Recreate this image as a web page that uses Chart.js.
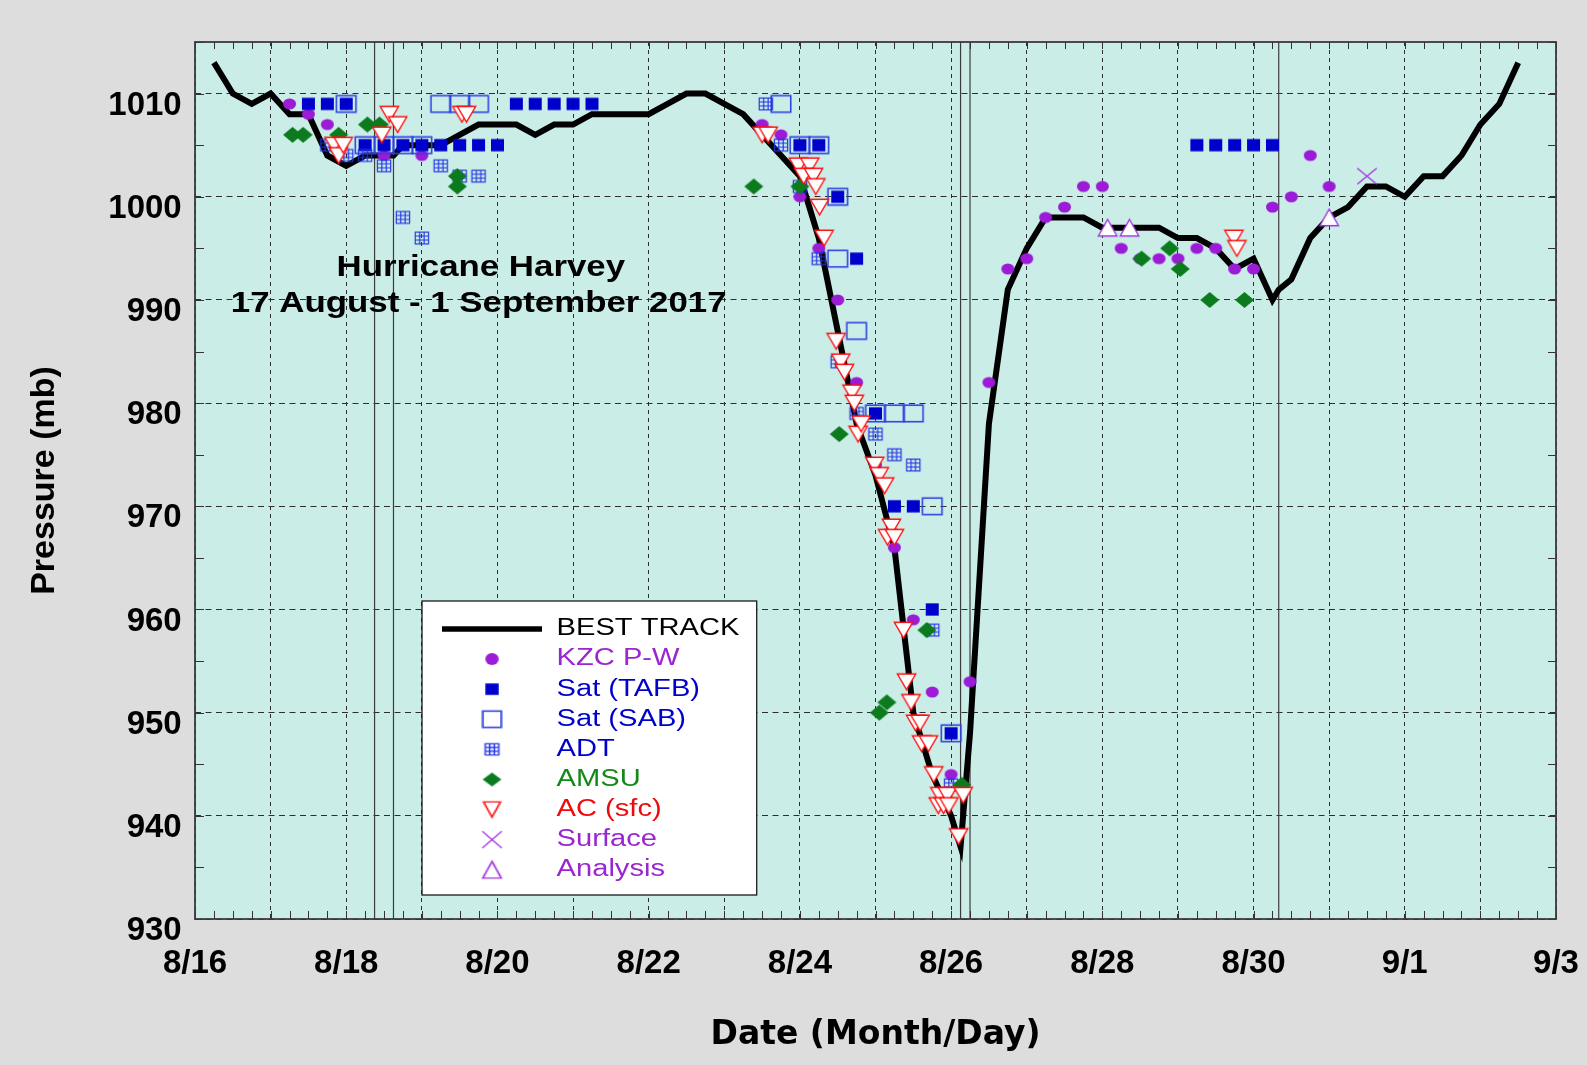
<!DOCTYPE html>
<html>
<head>
<meta charset="utf-8">
<title>Hurricane Harvey - Pressure</title>
<script src="https://cdn.jsdelivr.net/npm/chart.js@4.4.1/dist/chart.umd.min.js"></script>
<style>
  html, body { margin: 0; padding: 0; background: #dcdddc; overflow: hidden; }
  canvas { display: block; }
</style>
</head>
<body>
<canvas id="chart" width="1587" height="1065"></canvas>
<script>
// ---------- axis / text data ----------
const xTickDays   = [0, 2, 4, 6, 8, 10, 12, 14, 16, 18];           // days after 16 Aug 00 UTC
const xTickLabels = ['8/16','8/18','8/20','8/22','8/24','8/26','8/28','8/30','9/1','9/3'];
const xGridDays   = [0,1,2,3,4,5,6,7,8,9,10,11,12,13,14,15,16,17,18];
const yTickValues = [930, 940, 950, 960, 970, 980, 990, 1000, 1010];
const titleLines  = ['Hurricane Harvey', '17 August - 1 September 2017'];
const seriesNames = ['BEST TRACK','KZC P-W','Sat (TAFB)','Sat (SAB)','ADT','AMSU','AC (sfc)','Surface','Analysis'];
const landfallDays = [2.375, 2.625, 10.125, 10.25, 14.333];

// ---------- series data (x = days after 16 Aug 00 UTC, y = pressure mb) ----------
const bestTrackDay = [0.25,0.5,0.75,1,1.25,1.5,1.75,2,2.25,2.5,2.625,2.75,3,3.25,3.5,3.75,4,4.25,4.5,4.75,5,
  5.25,5.5,5.75,6,6.25,6.5,6.75,7,7.25,7.5,7.75,8,8.25,8.5,8.75,9,9.25,9.5,9.75,10,10.125,10.25,10.5,10.75,
  11,11.25,11.5,11.75,12,12.25,12.5,12.75,13,13.25,13.5,13.75,14,14.25,14.333,14.5,14.75,15,15.25,15.5,15.75,
  16,16.25,16.5,16.75,17,17.25,17.5];
const bestTrackPressure = [1013,1010,1009,1010,1008,1008,1004,1003,1004,1004,1004,1005,1005,1005,1006,1007,1007,1007,1006,1007,1007,
  1008,1008,1008,1008,1009,1010,1010,1009,1008,1006,1004,1002,996,987,978,973,966,950,944,940,937,948,978,991,
  995,998,998,998,997,997,997,997,996,996,995,993,994,990,991,992,996,998,999,1001,1001,
  1000,1002,1002,1004,1007,1009,1013];

const kzcDay = [1.25,1.5,1.75,2.5,3,7.5,7.75,8,8.25,8.5,8.75,9,9.25,9.5,9.75,10,10.25,10.5,10.75,11,11.25,11.5,
  11.75,12,12.25,12.5,12.75,13,13.25,13.5,13.75,14,14.25,14.5,14.75,15];
const kzcPressure = [1009,1008,1007,1004,1004,1007,1006,1000,995,990,982,974,966,959,952,944,953,982,993,994,998,999,
  1001,1001,995,994,994,994,995,995,993,993,999,1000,1004,1001];

const tafbDay = [1.5,1.75,2,2.25,2.5,2.75,3,3.25,3.5,3.75,4,4.25,4.5,4.75,5,5.25,8,8.25,8.5,8.75,9,9.25,9.5,9.75,10,
  13.25,13.5,13.75,14,14.25];
const tafbPressure = [1009,1009,1009,1005,1005,1005,1005,1005,1005,1005,1005,1009,1009,1009,1009,1009,1005,1005,1000,994,979,970,970,960,948,
  1005,1005,1005,1005,1005];

const sabDay = [2,2.25,2.5,2.75,3,3.25,3.5,3.75,7.75,8,8.25,8.5,8.5,8.75,9,9.25,9.5,9.75,10];
const sabPressure = [1009,1005,1005,1005,1005,1009,1009,1009,1009,1005,1005,1000,994,987,979,979,979,970,948];

const adtDay = [1.75,2,2.25,2.5,2.75,3,3.25,3.5,3.75,7.55,7.75,8,8.25,8.5,8.75,9,9.25,9.5,9.75,10];
const adtPressure = [1005,1004,1004,1003,998,996,1003,1002,1002,1009,1005,1001,994,984,979,977,975,974,958,943];

const amsuDay = [1.29,1.43,1.9,2.28,2.44,3.47,3.47,7.39,8,8.52,9.05,9.15,9.68,10.14,12.52,12.89,13.03,13.42,13.88];
const amsuPressure = [1006,1006,1006,1007,1007,1002,1001,1001,1001,977,950,951,958,943,994,995,993,990,990];

const acDay = [1.84,1.9,1.96,2.47,2.57,2.68,3.53,3.59,7.5,7.58,7.98,8.13,8.05,8.18,8.21,8.26,8.32,
  8.48,8.54,8.59,8.69,8.72,8.77,8.81,8.99,9.05,9.12,9.16,9.21,9.25,9.37,9.41,9.47,9.53,9.59,9.61,9.7,9.77,
  9.83,9.85,9.9,9.95,9.97,10.1,10.16,13.74,13.78];
const acPressure = [1005,1004,1005,1006,1008,1007,1008,1008,1006,1006,1003,1003,1002,1002,1001,999,996,
  986,984,983,981,980,977,978,974,973,972,967,968,967,958,953,951,949,949,947,947,944,
  941,942,941,942,941,938,942,996,995];

const surfaceDay = [15.5];
const surfacePressure = [1002];

const analysisDay = [12.07, 12.36, 15.0];
const analysisPressure = [997, 997, 998];

// ---------- styling ----------
const SANS = '"Liberation Sans", Arial, Helvetica, sans-serif';
const DEJAVU = '"DejaVu Sans", Verdana, sans-serif';
const COL = {
  purple: '#9b1bd6', purpleLine: '#a335e0', purpleText: '#9a26d0',
  blue: '#0000cc', sab: '#2f42e2', adt: '#2233e0', blueText: '#0000cc',
  green: '#0b7b1e', greenText: '#138a18',
  red: '#ff1010', redText: '#ee0a0a',
  plotBg: '#cbede8', pageBg: '#dcdddc'
};

function makeMarker(kind, w, h) {
  const c = document.createElement('canvas');
  c.width = Math.ceil(w + 4); c.height = Math.ceil(h + 4);
  const g = c.getContext('2d');
  const cx = c.width / 2, cy = c.height / 2, hw = w / 2, hh = h / 2;
  g.beginPath();
  switch (kind) {
    case 'ellipse':
      g.fillStyle = COL.purple; g.ellipse(cx, cy, hw, hh, 0, 0, Math.PI * 2); g.fill(); break;
    case 'square':
      g.fillStyle = COL.blue; g.fillRect(cx - hw, cy - hh, w, h); break;
    case 'openSquare':
      g.strokeStyle = COL.sab; g.lineWidth = 1.6; g.strokeRect(cx - hw, cy - hh, w, h); break;
    case 'grid':
      g.strokeStyle = COL.adt; g.lineWidth = 1.15; g.strokeRect(cx - hw, cy - hh, w, h);
      g.beginPath();
      [1, 2].forEach(k => {
        const x = cx - hw + w * k / 3, y = cy - hh + h * k / 3;
        g.moveTo(x, cy - hh); g.lineTo(x, cy + hh);
        g.moveTo(cx - hw, y); g.lineTo(cx + hw, y);
      });
      g.stroke(); break;
    case 'diamond':
      g.fillStyle = COL.green;
      g.moveTo(cx - hw, cy); g.lineTo(cx, cy - hh); g.lineTo(cx + hw, cy); g.lineTo(cx, cy + hh); g.closePath();
      g.fill(); break;
    case 'triDown':
      g.fillStyle = '#ffffff'; g.strokeStyle = COL.red; g.lineWidth = 1.4;
      g.moveTo(cx - hw, cy - hh); g.lineTo(cx + hw, cy - hh); g.lineTo(cx, cy + hh); g.closePath();
      g.fill(); g.stroke(); break;
    case 'triUp':
      g.fillStyle = '#ffffff'; g.strokeStyle = COL.purpleLine; g.lineWidth = 1.4;
      g.moveTo(cx, cy - hh); g.lineTo(cx + hw, cy + hh); g.lineTo(cx - hw, cy + hh); g.closePath();
      g.fill(); g.stroke(); break;
    case 'cross':
      g.strokeStyle = COL.purpleLine; g.lineWidth = 1.3;
      g.moveTo(cx - hw, cy - hh); g.lineTo(cx + hw, cy + hh);
      g.moveTo(cx + hw, cy - hh); g.lineTo(cx - hw, cy + hh);
      g.stroke(); break;
  }
  return c;
}

const dataMarker = {
  kzc: makeMarker('ellipse', 13, 11.2),
  tafb: makeMarker('square', 13, 12.3),
  sab: makeMarker('openSquare', 19.5, 16.5),
  adt: makeMarker('grid', 13.3, 11.8),
  amsu: makeMarker('diamond', 19, 15.8),
  ac: makeMarker('triDown', 18.3, 15.5),
  surface: makeMarker('cross', 19.5, 16.2),
  analysis: makeMarker('triUp', 18.5, 16.5)
};
// legend is drawn stretched 1.25x horizontally, so its markers are narrower here
const legendMarker = [
  null,
  makeMarker('ellipse', 10.8, 12),
  makeMarker('square', 10.8, 11.5),
  makeMarker('openSquare', 14.8, 16.3),
  makeMarker('grid', 10.8, 11.3),
  makeMarker('diamond', 15, 14),
  makeMarker('triDown', 13.6, 15.3),
  makeMarker('cross', 15.5, 16.7),
  makeMarker('triUp', 14.8, 16.7)
];
const legendTextColor = ['#000000', COL.purpleText, COL.blueText, COL.blueText, COL.blueText,
  COL.greenText, COL.redText, COL.purpleText, COL.purpleText];

const pts = (days, pres) => days.map((d, i) => ({ x: d, y: pres[i] }));

const LEGEND_X0 = 442;      // left end of the legend sample column
const LEGEND_STRETCH = 1.25;

const decor = {
  id: 'harveyDecor',
  beforeDraw(chart) {
    const { ctx, chartArea: a } = chart;
    ctx.save();
    ctx.fillStyle = COL.pageBg;
    ctx.fillRect(0, 0, chart.width, chart.height);
    ctx.fillStyle = COL.plotBg;
    ctx.fillRect(a.left, a.top, a.right - a.left, a.bottom - a.top);
    ctx.restore();
  },
  afterLayout(chart) {
    const lg = chart.legend;
    if (!lg) return;
    lg.left = LEGEND_X0 - 6.8; lg.top = 610.5;
    lg.width = 270; lg.height = 285;
    lg.right = lg.left + lg.width; lg.bottom = lg.top + lg.height;
  },
  beforeDatasetsDraw(chart) {
    const { ctx, chartArea: a, scales: { x, y } } = chart;
    ctx.save();
    // landfall lines
    ctx.strokeStyle = '#3c3c3c'; ctx.lineWidth = 1.2;
    landfallDays.forEach(d => {
      const px = x.getPixelForValue(d);
      ctx.beginPath(); ctx.moveTo(px, a.top); ctx.lineTo(px, a.bottom); ctx.stroke();
    });
    // minor ticks (6 h on x, 5 mb on y), inside the frame on all sides
    ctx.strokeStyle = '#333'; ctx.lineWidth = 1;
    ctx.beginPath();
    for (let d = x.min; d <= x.max + 1e-9; d += 0.25) {
      const px = Math.round(x.getPixelForValue(d)) + 0.5;
      ctx.moveTo(px, a.top); ctx.lineTo(px, a.top + 7);
      ctx.moveTo(px, a.bottom); ctx.lineTo(px, a.bottom - 8);
    }
    for (let p = y.min; p <= y.max + 1e-9; p += 5) {
      const py = Math.round(y.getPixelForValue(p)) + 0.5;
      ctx.moveTo(a.left, py); ctx.lineTo(a.left + 9, py);
      ctx.moveTo(a.right, py); ctx.lineTo(a.right - 8, py);
    }
    ctx.stroke();
    // frame
    ctx.strokeStyle = '#3a3a3a'; ctx.lineWidth = 1.8;
    ctx.strokeRect(a.left, a.top, a.right - a.left, a.bottom - a.top);
    // title text
    ctx.fillStyle = '#000'; ctx.font = 'bold 28.8px ' + SANS;
    ctx.textAlign = 'center'; ctx.textBaseline = 'middle';
    [[480.8, 268], [478.7, 303.6]].forEach(([cx, cy], i) => {
      ctx.save(); ctx.translate(cx, cy); ctx.scale(1.21, 1);
      ctx.fillText(titleLines[i], 0, 0);
      ctx.restore();
    });
    // legend box, then the Chart.js legend drawn on top of it (stretched like the original)
    ctx.fillStyle = '#ffffff';
    ctx.fillRect(422, 601, 334.7, 294);
    ctx.strokeStyle = '#1a1a1a'; ctx.lineWidth = 1.3;
    ctx.strokeRect(422, 601, 334.7, 294);
    ctx.restore();
    if (chart.legend) {
      ctx.save();
      ctx.translate(LEGEND_X0, 0); ctx.scale(LEGEND_STRETCH, 1); ctx.translate(-LEGEND_X0, 0);
      chart.legend.draw();
      ctx.restore();
    }
  }
};

const scatterBase = { showLine: false, pointRadius: 8, pointHoverRadius: 8, borderWidth: 0 };

new Chart(document.getElementById('chart'), {
  type: 'scatter',
  data: {
    datasets: [
      { label: seriesNames[0], data: pts(bestTrackDay, bestTrackPressure), showLine: true,
        borderColor: '#000', backgroundColor: '#000', borderWidth: 6, pointRadius: 0, pointHoverRadius: 0, order: 9 },
      { ...scatterBase, label: seriesNames[1], data: pts(kzcDay, kzcPressure), pointStyle: dataMarker.kzc, order: 7 },
      { ...scatterBase, label: seriesNames[2], data: pts(tafbDay, tafbPressure), pointStyle: dataMarker.tafb, order: 6 },
      { ...scatterBase, label: seriesNames[3], data: pts(sabDay, sabPressure), pointStyle: dataMarker.sab, order: 5 },
      { ...scatterBase, label: seriesNames[4], data: pts(adtDay, adtPressure), pointStyle: dataMarker.adt, order: 4 },
      { ...scatterBase, label: seriesNames[5], data: pts(amsuDay, amsuPressure), pointStyle: dataMarker.amsu, order: 3 },
      { ...scatterBase, label: seriesNames[6], data: pts(acDay, acPressure), pointStyle: dataMarker.ac, order: 0 },
      { ...scatterBase, label: seriesNames[7], data: pts(surfaceDay, surfacePressure), pointStyle: dataMarker.surface, order: 2 },
      { ...scatterBase, label: seriesNames[8], data: pts(analysisDay, analysisPressure), pointStyle: dataMarker.analysis, order: 1 }
    ]
  },
  options: {
    responsive: false,
    animation: false,
    devicePixelRatio: 1,
    events: [],
    layout: { padding: { top: 42, right: 31, left: 0, bottom: 0 } },
    scales: {
      x: {
        type: 'linear', min: 0, max: 18,
        afterBuildTicks: s => { s.ticks = xGridDays.map(v => ({ value: v })); },
        afterFit: s => { s.height = 146; s.paddingLeft = 0; s.paddingRight = 0; },
        grid: { color: '#2e2e2e', lineWidth: 1, drawTicks: false, z: -1 },
        border: { display: false, dash: [4, 4] },
        ticks: {
          autoSkip: false, maxRotation: 0, minRotation: 0, padding: 25, color: '#000',
          font: { family: SANS, size: 33, weight: 'bold' },
          callback: v => { const i = xTickDays.indexOf(v); return i >= 0 ? xTickLabels[i] : ''; }
        },
        title: { display: true, text: 'Date (Month/Day)', color: '#000',
          font: { family: DEJAVU, size: 33, weight: 'bold' }, padding: { top: 0, bottom: 10 } }
      },
      y: {
        type: 'linear', min: 930, max: 1015,
        afterBuildTicks: s => { s.ticks = yTickValues.map(v => ({ value: v })); },
        afterFit: s => { s.width = 195; },
        grid: { color: '#2e2e2e', lineWidth: 1, drawTicks: false, z: -1 },
        border: { display: false, dash: [6, 4.5] },
        ticks: {
          autoSkip: false, padding: 13.3, labelOffset: 12, color: '#000',
          font: { family: SANS, size: 33, weight: 'bold' },
          callback: v => String(v)
        },
        title: { display: true, text: 'Pressure (mb)', color: '#000',
          font: { family: SANS, size: 34, weight: 'bold' }, padding: { top: 24, bottom: 0 } }
      }
    },
    plugins: {
      tooltip: { enabled: false },
      legend: {
        display: true, position: 'chartArea', align: 'start',
        labels: {
          usePointStyle: true, pointStyleWidth: 80, padding: 6.8,
          font: { family: SANS, size: 23.3 }, color: '#000',
          generateLabels: () => seriesNames.map((name, i) => ({
            text: name,
            fontColor: legendTextColor[i],
            fillStyle: '#000', strokeStyle: '#000',
            lineWidth: i === 0 ? 5.5 : 0,
            pointStyle: i === 0 ? 'line' : legendMarker[i],
            rotation: 0, hidden: false, datasetIndex: i
          }))
        }
      }
    }
  },
  plugins: [decor]
});
</script>
</body>
</html>
